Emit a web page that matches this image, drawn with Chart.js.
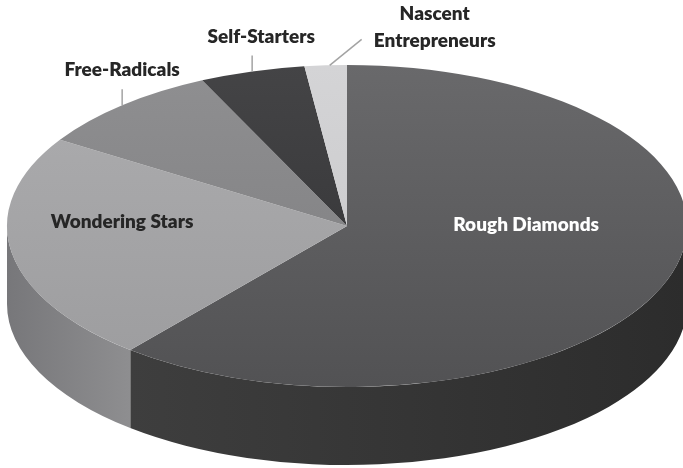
<!DOCTYPE html>
<html>
<head>
<meta charset="utf-8">
<script src="https://cdn.jsdelivr.net/npm/chart.js@4.4.1/dist/chart.umd.min.js"></script>
<style>
  html, body { margin: 0; padding: 0; background: #fff; }
  #wrap { width: 683px; height: 468px; position: relative; }
</style>
</head>
<body>
<div id="wrap"><canvas id="pieChart"></canvas></div>
<script>
// groups, clockwise from 12 o'clock
const segments = ['Rough Diamonds', 'Wondering Stars', 'Free-Radicals', 'Self-Starters', 'Nascent Entrepreneurs'];
// share of respondents (%)
const shares = [61, 23, 9, 5, 2];

// top face colours (light at the back, darker at the front)
const topColors = [
  ['#69696b', '#525254'],
  ['#adadaf', '#9c9c9e'],
  ['#8f8f91', '#7c7c7e'],
  ['#444446', '#313133'],
  ['#d4d4d6', '#c6c6c8']
];
// side wall colours, [at start angle, at end angle]
const sideColors = [
  ['#2c2c2c', '#3e3e3e'],
  ['#8e8e90', '#77777a'],
  ['#666668', '#666668'],
  ['#2a2a2a', '#2a2a2a'],
  ['#aaaaaa', '#aaaaaa']
];

const tilt = 161 / 340;   // vertical squash of the disc
const depth = 78;         // thickness of the disc in px

// where each label goes, relative to its slice
const labelPlacement = [
  { f: 0.56, dy: -32, color: '#ffffff' },
  { f: 0.67, dy: -21, color: '#262626' },
  { f: 1, line: [0, -16], text: [0, -35], color: '#262626' },
  { f: 1, line: [0, -16], text: [9, -35], color: '#262626' },
  { f: 1, from: [4, 0], line: [36, -26], text: [109, -38], color: '#262626', wrap: true }
];

function topFill(c) {
  const chart = c.chart;
  const area = chart.chartArea;
  const pair = topColors[c.dataIndex] || topColors[0];
  if (!area) return pair[1];
  const cy = (area.top + area.bottom) / 2;
  const g = chart.ctx.createLinearGradient(0, cy - 340, 0, cy + 340);
  g.addColorStop(0, pair[0]);
  g.addColorStop(1, pair[1]);
  return g;
}

const pie3d = {
  id: 'pie3d',
  beforeDatasetsDraw(chart) {
    const ctx = chart.ctx;
    const arcs = chart.getDatasetMeta(0).data;
    const cx = arcs[0].x, cy = arcs[0].y;
    const rx = arcs[0].outerRadius, ry = rx * tilt;

    // side walls, only the front half of the rim is visible
    arcs.forEach((arc, i) => {
      [0, 2 * Math.PI].forEach(base => {
        const a = Math.max(arc.startAngle, base);
        const b = Math.min(arc.endAngle, base + Math.PI);
        if (b <= a) return;
        const xa = cx + rx * Math.cos(a), xb = cx + rx * Math.cos(b);
        const g = ctx.createLinearGradient(xa, 0, xb === xa ? xa + 1 : xb, 0);
        g.addColorStop(0, sideColors[i][0]);
        g.addColorStop(1, sideColors[i][1]);
        ctx.beginPath();
        ctx.ellipse(cx, cy, rx, ry, 0, a, b);
        ctx.ellipse(cx, cy + depth, rx, ry, 0, b, a, true);
        ctx.closePath();
        ctx.fillStyle = g;
        ctx.fill();
      });
    });

    // squash the circle into an ellipse for the top face
    ctx.save();
    ctx.translate(cx, cy);
    ctx.scale(1, tilt);
    ctx.translate(-cx, -cy);
  },
  afterDatasetsDraw(chart) {
    const ctx = chart.ctx;
    ctx.restore();

    const arcs = chart.getDatasetMeta(0).data;
    ctx.save();
    ctx.font = '800 19px Lato';
    ctx.textAlign = 'center';
    ctx.textBaseline = 'middle';
    arcs.forEach((arc, i) => {
      const p = labelPlacement[i];
      const mid = (arc.startAngle + arc.endAngle) / 2;
      const r = arc.outerRadius * p.f;
      const x = arc.x + r * Math.cos(mid);
      const y = arc.y + r * Math.sin(mid) * tilt;
      ctx.fillStyle = p.color;
      if (!p.line) {
        ctx.fillText(segments[i], x, y + p.dy);
        return;
      }
      const from = p.from || [0, 0];
      ctx.strokeStyle = '#a3a3a3';
      ctx.lineWidth = 1.5;
      ctx.beginPath();
      ctx.moveTo(x + from[0], y + from[1]);
      ctx.lineTo(x + p.line[0], y + p.line[1]);
      ctx.stroke();
      const lines = p.wrap ? segments[i].split(' ') : [segments[i]];
      const lh = 27;
      lines.forEach((t, k) => {
        ctx.fillText(t, x + p.text[0], y + p.text[1] + (k - (lines.length - 1) / 2) * lh);
      });
    });
    ctx.restore();
  }
};

const ctx = document.getElementById('pieChart').getContext('2d');
new Chart(ctx, {
  type: 'pie',
  data: {
    labels: segments,
    datasets: [{
      data: shares,
      backgroundColor: topFill,
      borderWidth: 0,
      radius: 340,
      clip: false
    }]
  },
  options: {
    responsive: true,
    maintainAspectRatio: false,
    animation: false,
    layout: { padding: { left: 11, right: 0, top: 0, bottom: 16 } },
    plugins: {
      legend: { display: false },
      tooltip: { enabled: false }
    }
  },
  plugins: [pie3d]
});
</script>
</body>
</html>
